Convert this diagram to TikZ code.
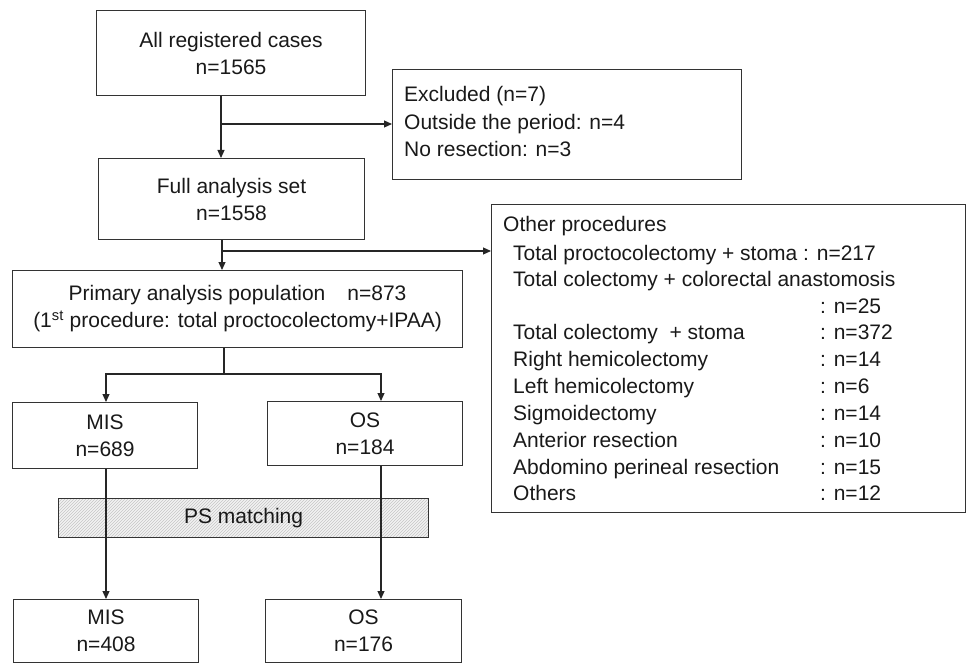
\documentclass[tikz,border=0pt]{standalone}
\usepackage{fontspec}
\setmainfont{Liberation Sans}
\usetikzlibrary{arrows.meta,patterns}
\begin{document}
\begin{tikzpicture}[x=1pt,y=-1pt,
  box/.style={draw=black!80,line width=1.1pt,anchor=north west,inner sep=0pt,align=center,
              font=\fontsize{21}{27}\selectfont,text=black!90},
  frame/.style={draw=black!80,line width=1.1pt,anchor=north west,inner sep=0pt},
  txt/.style={anchor=base west,inner sep=0pt,font=\fontsize{21}{27}\selectfont,text=black!90},
  arr/.style={draw=black!85,line width=1.1pt,-{Triangle[length=8pt,width=7pt]}},
  ln/.style={draw=black!85,line width=1.1pt}]
\useasboundingbox (0,0) rectangle (966,663);

% boxes
\node[box,minimum width=269pt,minimum height=85pt] (b1) at (96,10) {All registered cases\\n=1565};
\node[frame,minimum width=349pt,minimum height=110pt] (ex) at (392,69) {};
\node[box,minimum width=266pt,minimum height=81pt] (b2) at (98,158) {Full analysis set\\n=1558};
\node[frame,minimum width=474pt,minimum height=308pt] (op) at (491,204) {};
\node[box,minimum width=450pt,minimum height=77pt] (pr) at (12,270)
  {Primary analysis population\hspace{22pt}n=873\\(1\textsuperscript{st} procedure: total proctocolectomy+IPAA)};
\node[box,minimum width=185pt,minimum height=66pt] (mis) at (12,402) {MIS\\n=689};
\node[box,minimum width=195pt,minimum height=64pt] (os) at (267,401) {OS\\n=184};
\node[box,minimum width=370pt,minimum height=39pt,
      preaction={fill=gray!10},pattern=north east lines,pattern color=gray!45] (ps) at (58,498) {};
\node[txt,anchor=center] (pst) at (ps.center) {PS matching};
\node[box,minimum width=185pt,minimum height=63pt] (mis2) at (13,599) {MIS\\n=408};
\node[box,minimum width=196pt,minimum height=63pt] (os2) at (265,599) {OS\\n=176};

% excluded text
\node[txt] (e1) at (404,102) {Excluded (n=7)};
\node[txt] (e2) at (404,130) {Outside the period: n=4};
\node[txt] (e3) at (404,157) {No resection: n=3};

% other procedures text
\node[txt] (o0) at (503,232) {Other procedures};
\node[txt] (o1) at (513,260) {Total proctocolectomy + stoma : n=217};
\node[txt] (o2) at (513,286) {Total colectomy + colorectal anastomosis};
\node[txt] (c2) at (820,313) {: n=25};
\node[txt] (o4) at (513,339) {Total colectomy\ \ + stoma};
\node[txt] (c4) at (820,339) {: n=372};
\node[txt] (o5) at (513,366) {Right hemicolectomy};
\node[txt] (c5) at (820,366) {: n=14};
\node[txt] (o6) at (513,393) {Left hemicolectomy};
\node[txt] (c6) at (820,393) {: n=6};
\node[txt] (o7) at (513,420) {Sigmoidectomy};
\node[txt] (c7) at (820,420) {: n=14};
\node[txt] (o8) at (513,447) {Anterior resection};
\node[txt] (c8) at (820,447) {: n=10};
\node[txt] (o9) at (513,474) {Abdomino perineal resection};
\node[txt] (c9) at (820,474) {: n=15};
\node[txt] (o10) at (513,500) {Others};
\node[txt] (c10) at (820,500) {: n=12};

% junctions
\coordinate (j1) at (221,124);
\coordinate (j2) at (222,251);
\coordinate (j3) at (224,374);
\coordinate (j3l) at (106,374);
\coordinate (j3r) at (381,374);

% connectors
\draw[arr] (j1 |- b1.south) -- (j1 |- b2.north);
\draw[arr] (j1) -- (j1 -| ex.west);
\draw[arr] (j2 |- b2.south) -- (j2 |- pr.north);
\draw[arr] (j2) -- (j2 -| op.west);
\draw[ln] (j3 |- pr.south) -- (j3);
\draw[arr] (j3) -- (j3l) -- (j3l |- mis.north);
\draw[arr] (j3) -- (j3r) -- (j3r |- os.north);
\draw[arr] (j3l |- mis.south) -- (j3l |- mis2.north);
\draw[arr] (j3r |- os.south) -- (j3r |- os2.north);
\end{tikzpicture}
\end{document}
